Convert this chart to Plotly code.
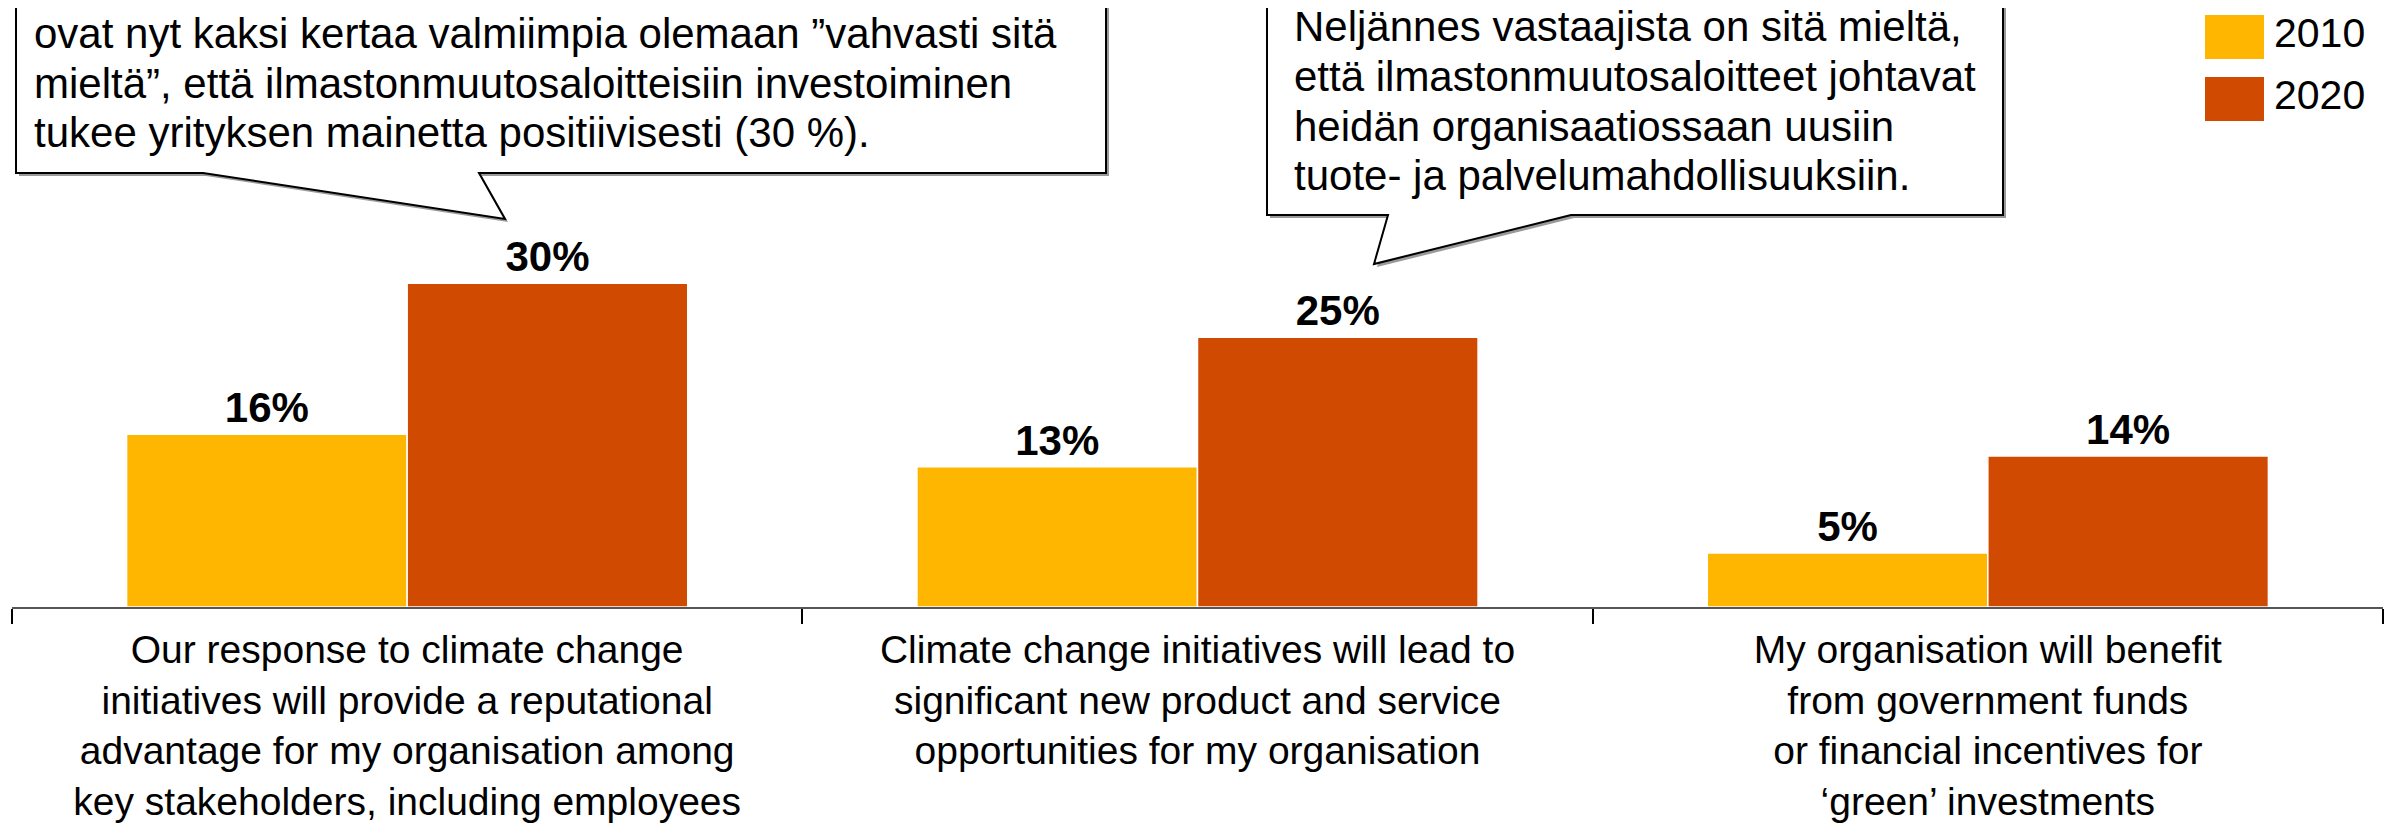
import plotly.graph_objects as go

categories = [
    "Our response to climate change<br>initiatives will provide a reputational<br>advantage for my organisation among<br>key stakeholders, including employees",
    "Climate change initiatives will lead to<br>significant new product and service<br>opportunities for my organisation",
    "My organisation will benefit<br>from government funds<br>or financial incentives for<br>‘green’ investments",
]
series_names = ["2010", "2020"]
values_2010 = [16, 13, 5]
values_2020 = [30, 25, 14]
colors = ["#FFB600", "#D04A02"]

callout_left = [
    "Vuoteen 2010 verrattuna suomalaiset yritysjohtajat",
    "ovat nyt kaksi kertaa valmiimpia olemaan ”vahvasti sitä",
    "mieltä”, että ilmastonmuutosaloitteisiin investoiminen",
    "tukee yrityksen mainetta positiivisesti (30 %).",
]
callout_right = [
    "Neljännes vastaajista on sitä mieltä,",
    "että ilmastonmuutosaloitteet johtavat",
    "heidän organisaatiossaan uusiin",
    "tuote- ja palvelumahdollisuuksiin.",
]

FONT = "Liberation Sans, Arial, sans-serif"
W, H = 2397, 825
L, R, T, B = 4, 22, 0, 226
PW, PH = W - L - R, H - T - B


def px(x):
    return (x - L) / PW


def py(y):
    return (H - B - y) / PH


def path(points):
    s = "M " + " L ".join(f"{px(x):.5f},{py(y):.5f}" for x, y in points)
    return s + " Z"


fig = go.Figure()
for name, vals, col in zip(series_names, [values_2010, values_2020], colors):
    fig.add_trace(go.Bar(
        x=categories,
        y=vals,
        name=name,
        marker=dict(color=col, line=dict(color="white", width=1.5)),
        texttemplate="%{y}%",
        textposition="outside",
        textfont=dict(size=42, color="black", family=FONT, weight="bold"),
        cliponaxis=False,
        showlegend=False,
    ))

shapes = []
annotations = []

# speech bubbles
bubbles = [
    ([(8, -60), (1098, -60), (1098, 165), (471, 165), (497, 211), (195, 165), (8, 165)],
     callout_left, 24, -24),
    ([(1259, -60), (1995, -60), (1995, 207), (1563, 207), (1366, 256), (1380, 207), (1259, 207)],
     callout_right, 1284, 19),
]
for pts, lines, tx, ty in bubbles:
    shadow = [(x + 3, y + 3) for x, y in pts]
    shapes.append(dict(type="path", xref="paper", yref="paper", path=path(shadow),
                       fillcolor="#9a9a9a", line=dict(width=0), layer="above"))
    shapes.append(dict(type="path", xref="paper", yref="paper", path=path(pts),
                       fillcolor="white", line=dict(color="black", width=2), layer="above"))
    for i, line in enumerate(lines):
        annotations.append(dict(
            x=px(tx), y=py(ty + i * 49.5), xref="paper", yref="paper",
            text=line, showarrow=False, xanchor="left", yanchor="middle",
            font=dict(size=42, color="black", family=FONT),
        ))

# legend
for i, (name, col) in enumerate(zip(series_names, colors)):
    y0 = 7 + i * 62
    shapes.append(dict(type="rect", xref="paper", yref="paper",
                       x0=px(2197), x1=px(2256), y0=py(y0), y1=py(y0 + 44),
                       fillcolor=col, line=dict(width=0)))
    annotations.append(dict(
        x=px(2264), y=py(y0 + 18), xref="paper", yref="paper",
        text=name, showarrow=False, xanchor="left", yanchor="middle",
        font=dict(size=41, color="black", family=FONT),
    ))

fig.update_layout(
    width=W, height=H,
    margin=dict(l=L, r=R, t=T, b=B),
    plot_bgcolor="white", paper_bgcolor="white",
    barmode="group", bargap=0.29, bargroupgap=0,
    font=dict(family=FONT, color="black"),
    shapes=shapes, annotations=annotations,
    xaxis=dict(
        type="category", tickson="boundaries", ticks="outside", ticklen=15,
        tickwidth=2, tickcolor="black", showline=True, linecolor="#555555",
        linewidth=2, showgrid=False, zeroline=False, automargin=False,
        ticklabelstandoff=7,
        tickfont=dict(size=39, color="black", family=FONT),
    ),
    yaxis=dict(range=[0, 55.5], visible=False, showgrid=False, zeroline=False),
)

fig.write_html("out.html")
